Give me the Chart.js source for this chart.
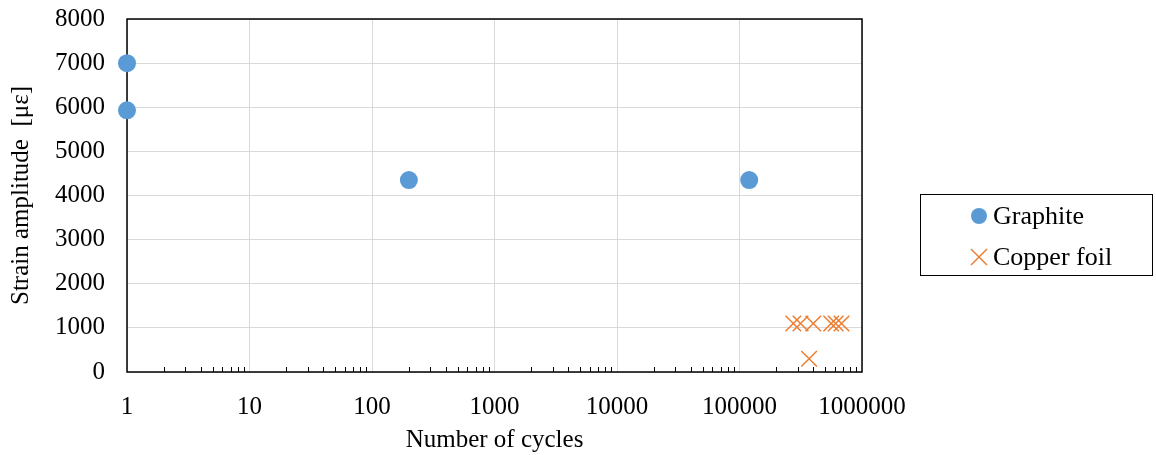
<!DOCTYPE html>
<html>
<head>
<meta charset="utf-8">
<script src="https://cdn.jsdelivr.net/npm/chart.js@4.4.1/dist/chart.umd.min.js"></script>
<style>
  body { margin: 0; background: #fff; }
  #wrap { position: relative; width: 1156px; height: 455px; }
  #legend {
    position: absolute; left: 920px; top: 194px; width: 233px; height: 82px;
    border: 1.5px solid #000; box-sizing: border-box;
    font-family: "Liberation Serif", "Times New Roman", serif; font-size: 26px; color: #000;
  }
  .item { position: absolute; left: 48px; height: 30px; line-height: 30px; white-space: nowrap; }
  .item svg { position: absolute; left: 0; top: 5px; }
  .item span { position: absolute; left: 24px; }
</style>
</head>
<body>
<div id="wrap">
  <canvas id="chart" width="1156" height="455"></canvas>
  <div id="legend">
    <div class="item" style="top:6px"><svg width="20" height="20"><circle cx="10" cy="10" r="8" fill="#5B9BD5"/></svg><span>Graphite</span></div>
    <div class="item" style="top:47px"><svg width="20" height="20"><path d="M2 2 L18 18 M18 2 L2 18" stroke="#ED7D31" stroke-width="1.5"/></svg><span>Copper foil</span></div>
  </div>
</div>
<script>
// data
const graphiteCycles = [1, 1, 200, 120000];
const graphiteStrain = [7000, 5930, 4350, 4350];
const copperCycles = [275000, 315000, 400000, 560000, 610000, 680000, 370000];
const copperStrain = [1100, 1100, 1100, 1100, 1100, 1100, 300];
const xTicks = [1, 10, 100, 1000, 10000, 100000, 1000000];
const yTicks = [0, 1000, 2000, 3000, 4000, 5000, 6000, 7000, 8000];

const toPoints = (xs, ys) => xs.map((x, i) => ({ x: x, y: ys[i] }));

// frame + minor log ticks along bottom axis
const framePlugin = {
  id: "frame",
  beforeDatasetsDraw(chart) {
    const ctx = chart.ctx;
    const a = chart.chartArea;
    const xs = chart.scales.x;
    ctx.save();
    ctx.strokeStyle = "#000";
    ctx.lineWidth = 1.5;
    ctx.strokeRect(a.left, a.top, a.right - a.left, a.bottom - a.top);
    ctx.lineWidth = 1;
    ctx.beginPath();
    for (let d = 1; d < 1000000; d *= 10) {
      for (let m = 2; m <= 9; m++) {
        const px = Math.round(xs.getPixelForValue(d * m)) + 0.5;
        ctx.moveTo(px, a.bottom);
        ctx.lineTo(px, a.bottom - 5);
      }
    }
    ctx.stroke();
    ctx.restore();
  }
};

const font = { family: "'Liberation Serif', 'Times New Roman', serif", size: 25 };

new Chart(document.getElementById("chart"), {
  type: "scatter",
  data: {
    datasets: [
      {
        label: "Graphite",
        data: toPoints(graphiteCycles, graphiteStrain),
        clip: false,
        pointStyle: "circle",
        pointRadius: 9,
        pointHoverRadius: 9,
        backgroundColor: "#5B9BD5",
        borderColor: "#5B9BD5",
        borderWidth: 0
      },
      {
        label: "Copper foil",
        data: toPoints(copperCycles, copperStrain),
        clip: false,
        pointStyle: "crossRot",
        pointRadius: 11,
        pointHoverRadius: 11,
        borderColor: "#ED7D31",
        borderWidth: 1.5
      }
    ]
  },
  options: {
    responsive: false,
    animation: false,
    layout: { padding: { top: 19, right: 294, left: 6, bottom: 0 } },
    plugins: { legend: { display: false }, tooltip: { enabled: false } },
    scales: {
      x: {
        type: "logarithmic",
        min: 1,
        max: 1000000,
        afterBuildTicks: (scale) => { scale.ticks = xTicks.map((v) => ({ value: v })); },
        afterFit: (scale) => { scale.height = 83; },
        grid: { color: "#D9D9D9", lineWidth: 1, drawTicks: false },
        border: { display: false },
        ticks: { color: "#000", font: font, padding: 20, maxRotation: 0, autoSkip: false,
          callback: (v) => String(v) },
        title: { display: true, text: "Number of cycles", color: "#000", font: font, padding: { top: 0, bottom: 0 } }
      },
      y: {
        min: 0,
        max: 8000,
        afterBuildTicks: (scale) => { scale.ticks = yTicks.map((v) => ({ value: v })); },
        afterFit: (scale) => {
          scale.width = 121;
          scale.paddingTop = 0;
          scale.paddingBottom = 0;
        },
        grid: { color: "#D9D9D9", lineWidth: 1, drawTicks: false },
        border: { display: false },
        ticks: { color: "#000", font: font, padding: 22, callback: (v) => String(v) },
        title: { display: true, text: "Strain amplitude  [με]", color: "#000", font: font, padding: { top: 0, bottom: 2 } }
      }
    }
  },
  plugins: [framePlugin]
});
</script>
</body>
</html>
